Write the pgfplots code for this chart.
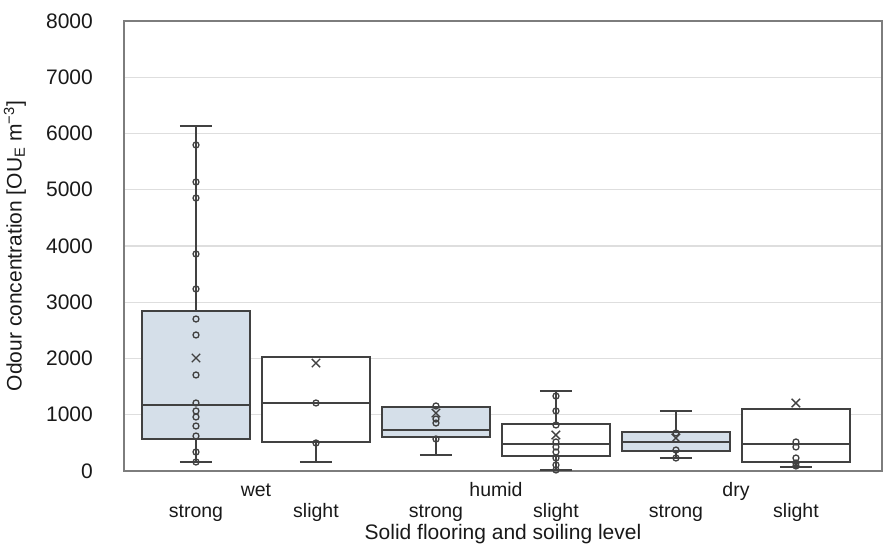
\documentclass[border=0pt]{standalone}
\usepackage{fontspec}
\setmainfont{Liberation Sans}
\usepackage{pgfplots}
\pgfplotsset{compat=1.18}
\usepgfplotslibrary{statistics}
\definecolor{boxfill}{RGB}{213,223,233}
\definecolor{boxline}{RGB}{65,65,65}
\definecolor{gridc}{RGB}{222,222,222}
\definecolor{axc}{RGB}{125,125,125}
\definecolor{txt}{RGB}{25,25,25}
\begin{document}
\begin{tikzpicture}
\path[use as bounding box] (-124pt,-76pt) rectangle (760pt,471pt);
\begin{axis}[
  scale only axis, width=758pt, height=450pt,
  at={(0,0)}, anchor=south west,
  xmin=-0.6, xmax=5.717,
  ymin=0, ymax=8000,
  ytick={0,1000,2000,3000,4000,5000,6000,7000,8000},
  scaled y ticks=false,
  /pgf/number format/1000 sep={},
  /pgf/number format/assume math mode=true,
  xtick={0,1,2,3,4,5},
  xticklabels={strong,slight,strong,slight,strong,slight},
  extra x ticks={0.5,2.5,4.5},
  extra x tick labels={wet,humid,dry},
  extra x tick style={tick label style={yshift=21.7pt}},
  major tick length=0pt,
  ymajorgrids, grid style={gridc, line width=1.4pt},
  axis line style={axc, line width=1.5pt},
  yticklabel style={font=\fontsize{21}{25}\selectfont, text=txt, inner sep=0pt, anchor=east, xshift=-31pt},
  xticklabel style={font=\fontsize{19.5}{23}\selectfont, text=txt, inner sep=0pt, anchor=base, yshift=-46.7pt},
  xlabel={Solid flooring and soiling level},
  ylabel={Odour concentration [OU\textsubscript{E} m\textsuperscript{−3}]},
  every axis x label/.style={at={(axis description cs:0.5,0)}, anchor=base, yshift=-68pt, font=\fontsize{21}{25}\selectfont, text=txt},
  every axis y label/.style={at={(axis description cs:-0.1438,0.5)}, rotate=90, anchor=center, font=\fontsize{21}{25}\selectfont, text=txt},
  boxplot/draw direction=y,
  clip=false,
]
% wet strong
\addplot[boxline, line width=1.4pt, boxplot prepared={draw position=0, lower whisker=160, lower quartile=569, median=1173, upper quartile=2844, upper whisker=6133, box extend=0.9, whisker extend=0.27, every box/.style={draw=boxline, fill=boxfill}}] coordinates {};
% wet slight
\addplot[boxline, line width=1.4pt, boxplot prepared={draw position=1, lower whisker=160, lower quartile=516, median=1209, upper quartile=2027, upper whisker=2027, box extend=0.9, whisker extend=0.27, every box/.style={draw=boxline, fill=white}}] coordinates {};
% humid strong
\addplot[boxline, line width=1.4pt, boxplot prepared={draw position=2, lower whisker=284, lower quartile=604, median=729, upper quartile=1138, upper whisker=1138, box extend=0.9, whisker extend=0.27, every box/.style={draw=boxline, fill=boxfill}}] coordinates {};
% humid slight
\addplot[boxline, line width=1.4pt, boxplot prepared={draw position=3, lower whisker=18, lower quartile=267, median=480, upper quartile=836, upper whisker=1422, box extend=0.9, whisker extend=0.27, every box/.style={draw=boxline, fill=white}}] coordinates {};
% dry strong
\addplot[boxline, line width=1.4pt, boxplot prepared={draw position=4, lower whisker=231, lower quartile=356, median=516, upper quartile=693, upper whisker=1067, box extend=0.9, whisker extend=0.27, every box/.style={draw=boxline, fill=boxfill}}] coordinates {};
% dry slight
\addplot[boxline, line width=1.4pt, boxplot prepared={draw position=5, lower whisker=71, lower quartile=160, median=480, upper quartile=1102, upper whisker=1102, box extend=0.9, whisker extend=0.27, every box/.style={draw=boxline, fill=white}}] coordinates {};
% data points
\addplot[only marks, mark=o, mark size=3pt, mark options={draw=boxline, line width=1.3pt}] coordinates {
 (0,5796) (0,5138) (0,4853) (0,3858) (0,3236) (0,2702) (0,2418) (0,1707) (0,1209) (0,1067) (0,960) (0,800) (0,622) (0,338) (0,160)
 (1,1209) (1,498)
 (2,1156) (2,924) (2,853) (2,569)
 (3,1333) (3,1067) (3,818) (3,516) (3,427) (3,338) (3,231) (3,107) (3,18)
 (4,676) (4,373) (4,231)
 (5,516) (5,427) (5,231) (5,142) (5,89)
};
% means
\addplot[only marks, mark=x, mark size=6pt, mark options={draw=boxline, line width=1.4pt}] coordinates {
 (0,2009) (1,1920) (2,1031) (3,640) (4,587) (5,1209)
};
\end{axis}
\end{tikzpicture}
\end{document}
